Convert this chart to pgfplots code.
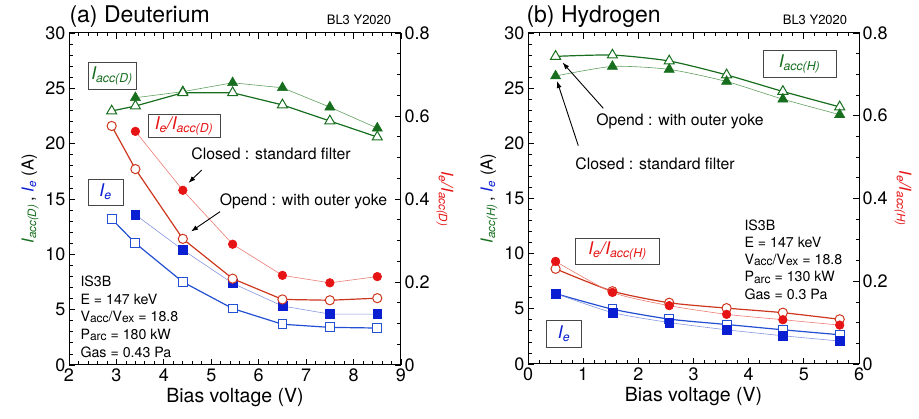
\documentclass[border=0pt]{standalone}
\usepackage{pgfplots}
\pgfplotsset{compat=1.18}
\usepackage{fontspec}
\setmainfont{TeX Gyre Heros}
\usetikzlibrary{arrows.meta}
\definecolor{dgreen}{RGB}{22,110,30}
\definecolor{lgreen}{RGB}{95,160,95}
\definecolor{myred}{RGB}{230,20,20}
\definecolor{dred}{RGB}{205,55,30}
\definecolor{lred}{RGB}{235,125,115}
\definecolor{myblue}{RGB}{10,30,210}
\definecolor{dblue}{RGB}{35,80,210}
\definecolor{lblue}{RGB}{135,150,225}
\definecolor{boxgray}{RGB}{70,70,70}
\newcommand{\fs}[1]{\fontsize{#1}{#1}\selectfont}
\newcommand{\sub}[1]{\textsubscript{#1}}
\begin{document}
\begin{tikzpicture}[x=1pt,y=1pt]
\path[use as bounding box] (0,0) rectangle (919,419);
\pgfplotsset{
  base/.style={scale only axis, anchor=south west, tick align=inside,
    major tick length=6pt, minor tick length=3.5pt,
    every tick/.style={black, line width=0.8pt},
    axis line style={line width=1pt},
    ticklabel style={font=\fs{18}},
    /pgf/number format/assume math mode=true,
    xlabel style={font=\fs{19.5}},
    ylabel style={font=\fs{16.5}}, clip=false},
  oTri/.style={dgreen, line width=1.2pt, mark=triangle*, mark size=5.8pt, mark options={fill=white, draw=dgreen, line width=1pt}},
  cTri/.style={lgreen, line width=0.6pt, mark=triangle*, mark size=5.8pt, mark options={fill=dgreen, draw=dgreen}},
  oCir/.style={dred, line width=1.2pt, mark=*, mark size=4.6pt, mark options={fill=white, draw=dred, line width=1pt}},
  cCir/.style={lred, line width=0.6pt, mark=*, mark size=4.3pt, mark options={fill=myred, draw=myred}},
  oSq/.style={dblue, line width=1.2pt, mark=square*, mark size=4.4pt, mark options={fill=white, draw=dblue, line width=1pt}},
  cSq/.style={lblue, line width=0.6pt, mark=square*, mark size=4.4pt, mark options={fill=myblue, draw=myblue}},
}
% ================= Left panel =================
\begin{axis}[base, at={(69pt,54pt)}, width=332pt, height=332pt,
  xmin=2, xmax=9, ymin=0, ymax=30,
  xtick={2,...,9}, ytick={0,5,...,30},
  minor x tick num=4, minor y tick num=4,
  xtick pos=both, ytick pos=left,
  xlabel={Bias voltage (V)},
  ylabel={{\color{dgreen}\itshape I\sub{acc(D)}}\,, {\color{myblue}\itshape I\sub{e}} (A)}]
\addplot[cTri] coordinates {(3.4,24.15)(4.4,24.7)(5.45,25.5)(6.5,25.05)(7.5,23.3)(8.5,21.4)};
\addplot[oTri] coordinates {(2.9,22.95)(3.4,23.4)(4.4,24.6)(5.45,24.6)(6.5,23.5)(7.5,22.05)(8.5,20.6)};
\addplot[cSq] coordinates {(3.4,13.58)(4.4,10.4)(5.45,7.38)(6.5,5.33)(7.5,4.6)(8.5,4.6)};
\addplot[oSq] coordinates {(2.9,13.2)(3.4,11.0)(4.4,7.5)(5.45,5.1)(6.5,3.68)(7.5,3.4)(8.5,3.34)};
\end{axis}
\begin{axis}[base, at={(69pt,54pt)}, width=332pt, height=332pt,
  xmin=2, xmax=9, ymin=0, ymax=0.8,
  axis x line=none, axis y line*=right,
  ytick={0,0.2,0.4,0.6,0.8}, yticklabels={0,0.2,0.4,0.6,0.8},
  minor y tick num=3,
  ylabel={\color{myred}\itshape I\sub{e}/I\sub{acc(D)}},
  ylabel style={rotate=180}]
\addplot[cCir] coordinates {(3.4,0.563)(4.4,0.421)(5.45,0.291)(6.5,0.216)(7.5,0.198)(8.5,0.213)};
\addplot[oCir] coordinates {(2.9,0.576)(3.4,0.472)(4.4,0.304)(5.45,0.208)(6.5,0.158)(7.5,0.156)(8.5,0.161)};
\end{axis}
% annotations left
\node[anchor=west, font=\fs{23}] at (66,402) {(a) Deuterium};
\node[font=\fs{13}] at (359,399) {BL3 Y2020};
\node[draw=boxgray, line width=0.9pt, fill=white, minimum width=48pt, minimum height=27pt, inner sep=0pt, font=\fs{17.5}\itshape, text=dgreen] at (112,343.5) {I\sub{acc(D)}};
\node[draw=boxgray, line width=0.9pt, fill=white, minimum width=72pt, minimum height=23pt, inner sep=0pt, font=\fs{17.5}\itshape, text=myred] at (184,293) {I\sub{e}/I\sub{acc(D)}};
\node[draw=boxgray, line width=0.9pt, fill=white, minimum width=35pt, minimum height=26pt, inner sep=0pt, font=\fs{17.5}\itshape, text=myblue] at (105.5,227) {I\sub{e}};
\node[font=\fs{15.8}] at (271,265) {Closed : standard filter};
\node[font=\fs{15.8}] at (303.5,218) {Opend : with outer yoke};
\draw[-{Latex[length=7pt,width=5pt]}, line width=0.9pt] (201.7,249) -- (188.5,236);
\draw[-{Latex[length=7pt,width=5pt]}, line width=0.9pt] (220,207.3) -- (191,187.5);
\node[anchor=west, font=\fs{14.2}, align=left] at (77,138) {IS3B};
\node[anchor=west, font=\fs{14.2}] at (77,120) {E = 147 keV};
\node[anchor=west, font=\fs{14.2}] at (77,102) {V\raisebox{-1.5pt}{\fs{12}acc}/V\raisebox{-1.5pt}{\fs{12}ex} = 18.8};
\node[anchor=west, font=\fs{14.2}] at (77,84) {P\raisebox{-1.5pt}{\fs{12}arc} = 180 kW};
\node[anchor=west, font=\fs{14.2}] at (77,67) {Gas = 0.43 Pa};
% ================= Right panel =================
\begin{axis}[base, at={(528pt,55pt)}, width=331pt, height=331pt,
  xmin=0, xmax=6, ymin=0, ymax=30,
  xtick={0,...,6}, ytick={0,5,...,30},
  minor x tick num=4, minor y tick num=4,
  xtick pos=both, ytick pos=left,
  xlabel={Bias voltage (V)},
  ylabel={{\color{dgreen}\itshape I\sub{acc(H)}}\,, {\color{myblue}\itshape I\sub{e}} (A)}]
\addplot[oTri, smooth, tension=0.4] coordinates {(0.5,27.88)(1.53,28.0)(2.56,27.46)(3.6,26.2)(4.62,24.7)(5.65,23.3)};
\addplot[cTri, smooth, tension=0.4] coordinates {(0.5,26.1)(1.53,26.97)(2.56,26.7)(3.6,25.6)(4.62,24.0)(5.65,22.6)};
\addplot[oSq, smooth, tension=0.4] coordinates {(0.5,6.38)(1.53,4.97)(2.56,4.07)(3.6,3.58)(4.62,3.1)(5.65,2.65)};
\addplot[cSq, smooth, tension=0.4] coordinates {(0.5,6.38)(1.53,4.66)(2.56,3.76)(3.6,3.1)(4.62,2.56)(5.65,2.08)};
\end{axis}
\begin{axis}[base, at={(528pt,55pt)}, width=331pt, height=331pt,
  xmin=0, xmax=6, ymin=0, ymax=0.8,
  axis x line=none, axis y line*=right,
  ytick={0,0.2,0.4,0.6,0.8}, yticklabels={0,0.2,0.4,0.6,0.8},
  minor y tick num=3,
  ylabel={\color{myred}\itshape I\sub{e}/I\sub{acc(H)}},
  ylabel style={rotate=180}]
\addplot[oCir, smooth, tension=0.4] coordinates {(0.5,0.23)(1.53,0.176)(2.56,0.148)(3.6,0.135)(4.62,0.124)(5.65,0.108)};
\addplot[cCir, smooth, tension=0.4] coordinates {(0.5,0.248)(1.53,0.173)(2.56,0.141)(3.6,0.12)(4.62,0.107)(5.65,0.094)};
\end{axis}
% annotations right
\node[anchor=west, font=\fs{23}] at (523,402) {(b) Hydrogen};
\node[font=\fs{13}] at (815,399) {BL3 Y2020};
\node[draw=boxgray, line width=0.9pt, fill=white, minimum width=73pt, minimum height=27pt, inner sep=0pt, font=\fs{17.5}\itshape, text=dgreen] at (799.5,355.5) {I\sub{acc(H)}};
\node[font=\fs{15.8}] at (680,297.3) {Opend : with outer yoke};
\node[font=\fs{15.8}] at (655,255) {Closed : standard filter};
\draw[-{Latex[length=7pt,width=5pt]}, line width=0.9pt] (603.3,310.7) -- (562.5,356.5);
\draw[-{Latex[length=7pt,width=5pt]}, line width=0.9pt] (578.3,273.3) -- (557,338);
\node[draw=boxgray, line width=0.9pt, fill=white, minimum width=84pt, minimum height=26pt, inner sep=0pt, font=\fs{17.5}\itshape, text=myred] at (617.5,168) {I\sub{e}/I\sub{acc(H)}};
\node[draw=boxgray, line width=0.9pt, fill=white, minimum width=35pt, minimum height=27pt, inner sep=0pt, font=\fs{17.5}\itshape, text=myblue] at (564,85) {I\sub{e}};
\node[anchor=west, font=\fs{14.2}] at (741,194) {IS3B};
\node[anchor=west, font=\fs{14.2}] at (741,176.7) {E = 147 keV};
\node[anchor=west, font=\fs{14.2}] at (741,159) {V\raisebox{-1.5pt}{\fs{12}acc}/V\raisebox{-1.5pt}{\fs{12}ex} = 18.8};
\node[anchor=west, font=\fs{14.2}] at (741,141.7) {P\raisebox{-1.5pt}{\fs{12}arc} = 130 kW};
\node[anchor=west, font=\fs{14.2}] at (741,124.7) {Gas = 0.3 Pa};
\end{tikzpicture}
\end{document}
